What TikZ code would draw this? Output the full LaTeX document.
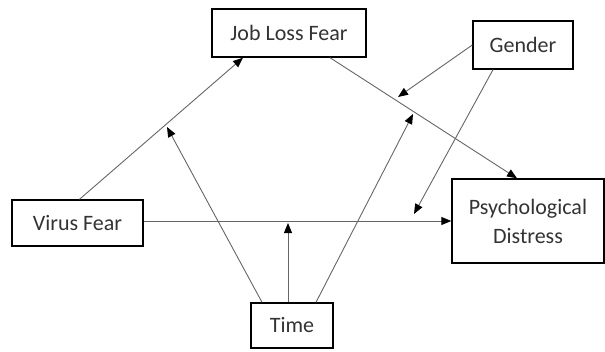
\documentclass[tikz,border=0pt]{standalone}
\usepackage{fontspec}
\setmainfont{Carlito}
\usetikzlibrary{arrows.meta}

\begin{document}
\begin{tikzpicture}[x=1pt, y=-1pt,
    box/.style={draw, line width=1.4pt, inner sep=0pt, align=center, font=\fontsize{22}{29}\selectfont, text=black!80},
    path/.style={draw=black!60, line width=0.9pt, -{Triangle[length=10pt, width=8pt, black]}}]
    \useasboundingbox (0,0) rectangle (605,351);

    \node[box, minimum width=154, minimum height=48] (job) at (289,33) {Job Loss Fear};
    \node[box, minimum width=100, minimum height=48] (gender) at (523,45) {Gender};
    \node[box, minimum width=152, minimum height=84] (distress) at (528,221) {Psychological\\Distress};
    \node[box, minimum width=131, minimum height=46] (virus) at (77.5,223) {Virus Fear};
    \node[box, minimum width=82, minimum height=45] (time) at (292,325.5) {Time};

    % points where the moderators meet the paths
    \coordinate (g1) at (398,97);
    \coordinate (g2) at (414,214);
    \coordinate (t1) at (167,127);
    \coordinate (t2) at (288,223);
    \coordinate (t3) at (413,114);

    \draw[path] ([xshift=2]virus.north) -- ([xshift=-46]job.south);
    \draw[path] ([xshift=41]job.south) -- ([xshift=-11]distress.north);
    \draw[path] (virus.east |- 0,221) -- (distress.west |- 0,221);
    \draw[path] (gender.west) -- (g1);
    \draw[path] ([xshift=-30]gender.south) -- (g2);
    \draw[path] ([xshift=-30]time.north) -- (t1);
    \draw[path] ([xshift=-4]time.north) -- (t2);
    \draw[path] ([xshift=24]time.north) -- (t3);
\end{tikzpicture}
\end{document}
